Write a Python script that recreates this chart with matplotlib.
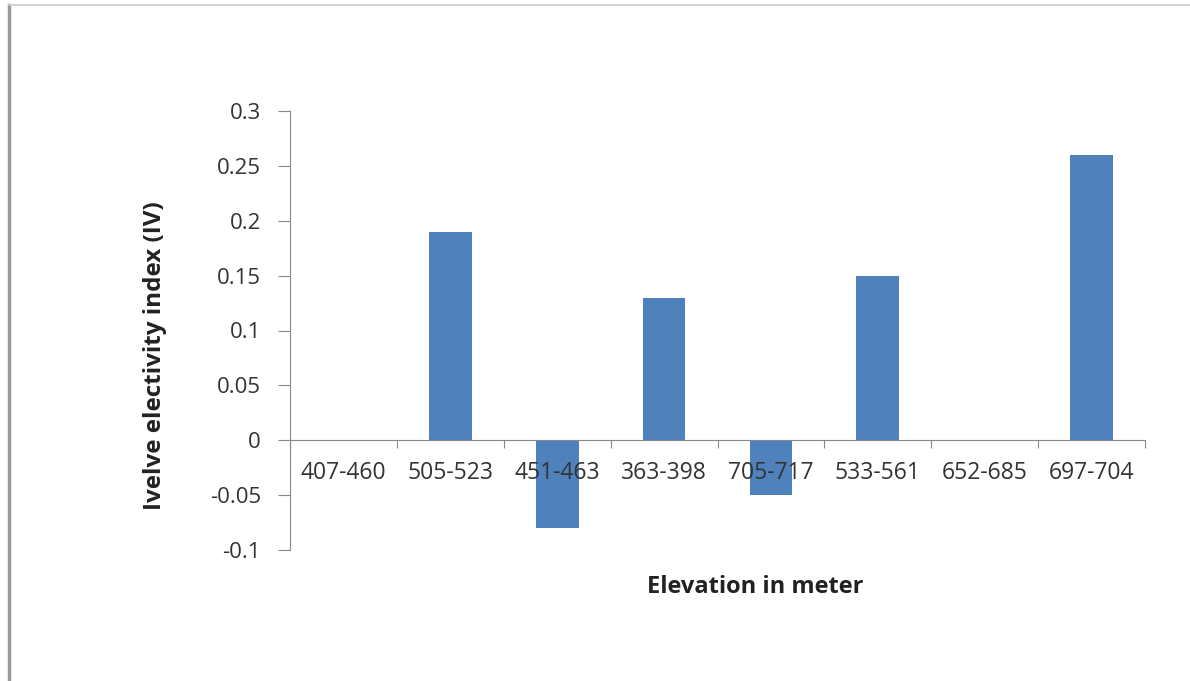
import matplotlib
matplotlib.use("Agg")
import matplotlib.pyplot as plt
from matplotlib.lines import Line2D

categories = ["407-460", "505-523", "451-463", "363-398", "705-717", "533-561", "652-685", "697-704"]
values = [0, 0.19, -0.08, 0.13, -0.05, 0.15, 0, 0.26]
yticks = [-0.1, -0.05, 0, 0.05, 0.1, 0.15, 0.2, 0.25, 0.3]
ytick_labels = ["-0.1", "-0.05", "0", "0.05", "0.1", "0.15", "0.2", "0.25", "0.3"]

W, H = 1190, 681
fig = plt.figure(figsize=(W / 100, H / 100), dpi=100)
plt.rcParams['font.family'] = ['Open Sans', 'DejaVu Sans']

# axes box in pixels: x 290..1145, y 111..550
ax = fig.add_axes([290 / W, 1 - 550 / H, (1145 - 290) / W, (550 - 111) / H])
x = range(len(categories))
ax.bar(x, values, width=0.4, color="#4F81BD")

ax.set_xlim(-0.5, len(categories) - 0.5)
ax.set_ylim(-0.1, 0.3)
ax.set_yticks(yticks)
ax.set_yticklabels(ytick_labels)
ax.set_xticks([i + 0.5 for i in range(-1, len(categories))], minor=False)
ax.set_xticklabels([])
ax.set_xticks(list(x), minor=True)
ax.set_xticklabels(categories, minor=True)

for s in ["top", "right"]:
    ax.spines[s].set_visible(False)
ax.spines["bottom"].set_position(("data", 0))
ax.spines["bottom"].set_color("#888888")
ax.spines["left"].set_color("#888888")
ax.tick_params(axis="y", length=9, color="#888888", labelsize=16, labelcolor="#333333", pad=12)
ax.tick_params(axis="x", which="major", length=6, color="#888888")
ax.tick_params(axis="x", which="minor", length=0, labelsize=16.5, labelcolor="#333333", pad=15)

fig.text(155 / W, 1 - 356 / H, "Ivelve electivity index (IV)", rotation=90,
         ha="center", va="center", fontsize=17.5, fontweight="bold", color="#222222")
fig.text(755 / W, 1 - 587 / H, "Elevation in meter",
         ha="center", va="center", fontsize=17, fontweight="bold", color="#222222")

# outer frame
fig.add_artist(Line2D([9 / W, 9 / W], [0, 1 - 5 / H], color="#999999", lw=2.5, transform=fig.transFigure))
fig.add_artist(Line2D([9 / W, 1], [1 - 5 / H, 1 - 5 / H], color="#cccccc", lw=1.2, transform=fig.transFigure))

fig.savefig("out.png", dpi=100)
